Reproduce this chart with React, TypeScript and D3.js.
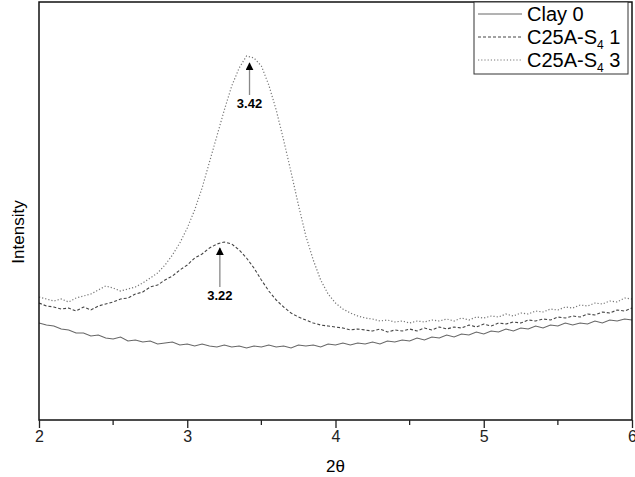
import React, { useEffect, useRef } from 'react';
import * as d3 from 'd3';

// 2theta positions (degrees)
const twoTheta = [
  2.0, 2.05, 2.1, 2.15, 2.2, 2.25, 2.3, 2.35, 2.4, 2.45,
  2.5, 2.55, 2.6, 2.65, 2.7, 2.75, 2.8, 2.85, 2.9, 2.95,
  3.0, 3.05, 3.1, 3.15, 3.2, 3.25, 3.3, 3.35, 3.4, 3.45,
  3.5, 3.55, 3.6, 3.65, 3.7, 3.75, 3.8, 3.85, 3.9, 3.95,
  4.0, 4.05, 4.1, 4.15, 4.2, 4.25, 4.3, 4.35, 4.4, 4.45,
  4.5, 4.55, 4.6, 4.65, 4.7, 4.75, 4.8, 4.85, 4.9, 4.95,
  5.0, 5.05, 5.1, 5.15, 5.2, 5.25, 5.3, 5.35, 5.4, 5.45,
  5.5, 5.55, 5.6, 5.65, 5.7, 5.75, 5.8, 5.85, 5.9, 5.95,
  6.0,
];

const clay0 = [
  97, 95, 94, 91, 90, 87, 87, 84, 85, 82,
  81, 83, 79, 80, 78, 79, 76, 77, 78, 75,
  76, 74, 76, 74, 73, 75, 73, 74, 72, 74,
  73, 75, 73, 74, 72, 75, 74, 75, 73, 76,
  75, 77, 75, 77, 76, 78, 76, 79, 78, 80,
  79, 82, 80, 83, 82, 85, 83, 86, 85, 88,
  86, 89, 88, 91, 89, 92, 91, 94, 92, 95,
  94, 97, 95, 97, 96, 99, 97, 100, 99, 101,
  100,
];

const c25a1 = [
  117, 114, 113, 111, 112, 109, 113, 110, 114, 116,
  118, 121, 122, 126, 128, 133, 135, 140, 144, 150,
  155, 162, 166, 172, 176, 178, 176, 170, 162, 152,
  140, 129, 120, 113, 107, 103, 100, 97, 95, 94,
  93, 92, 90, 91, 90, 89, 91, 88, 90, 89,
  91, 89, 92, 90, 93, 91, 93, 92, 95, 93,
  96, 94, 97, 96, 98, 97, 100, 99, 101, 100,
  103, 102, 104, 103, 106, 105, 108, 107, 110, 109,
  112,
];

const c25a3 = [
  123, 121, 119, 121, 118, 122, 124, 126, 130, 134,
  132, 129, 131, 133, 137, 142, 147, 155, 165, 177,
  192, 210, 232, 258, 284, 310, 334, 352, 364, 362,
  354, 335, 310, 280, 248, 215, 184, 160, 140, 126,
  117, 111, 107, 104, 102, 101, 99, 100, 98, 99,
  97, 99, 98, 100, 99, 101, 99, 102, 100, 103,
  102, 104, 103, 106, 104, 107, 106, 109, 108, 111,
  110, 113, 112, 115, 114, 117, 116, 119, 118, 122,
  121,
];

const seriesNames = ['Clay 0', 'C25A-S4 1', 'C25A-S4 3'];
const seriesValues = [clay0, c25a1, c25a3];

// peak annotations: position, arrow tip intensity, arrow tail intensity
const peakPositions = [3.42, 3.22];
const peakTips = [357, 172];
const peakTails = [325, 133];
const peakLabels = ['3.42', '3.22'];

const xTicks = [2, 3, 4, 5, 6];
const xMinorTicks = [2.5, 3.5, 4.5, 5.5];

const styles = [
  { stroke: '#666', dash: null, width: 1.1 },
  { stroke: '#444', dash: '3,2', width: 1.1 },
  { stroke: '#777', dash: '1.2,2', width: 1.2 },
];

export default function App() {
  const node = useRef<SVGSVGElement>(null);

  useEffect(() => {
    const svg = d3.select(node.current);
    svg.selectAll('*').remove();

    const left = 39, right = 632, top = 2, bottom = 420;
    const font = '"Liberation Sans", Arial, sans-serif';

    const x = d3.scaleLinear().domain([2, 6]).range([left, right]);
    // intensity in arbitrary units, kept at 1 unit per pixel
    const y = d3.scaleLinear().domain([0, bottom - top]).range([bottom, top]);

    const defs = svg.append('defs');
    defs.append('marker')
      .attr('id', 'arrowhead')
      .attr('viewBox', '0 0 10 10')
      .attr('refX', 9).attr('refY', 5)
      .attr('markerWidth', 8).attr('markerHeight', 8)
      .attr('markerUnits', 'userSpaceOnUse')
      .attr('orient', 'auto')
      .append('path')
      .attr('d', 'M0,0 L10,5 L0,10 Z')
      .attr('fill', '#000');

    const line = d3.line<number>()
      .x((_, i) => x(twoTheta[i]))
      .y(d => y(d));

    seriesValues.forEach((vals, i) => {
      svg.append('path')
        .datum(vals)
        .attr('d', line)
        .attr('fill', 'none')
        .attr('stroke', styles[i].stroke)
        .attr('stroke-width', styles[i].width)
        .attr('stroke-dasharray', styles[i].dash);
    });

    // arrows
    peakPositions.forEach((p, i) => {
      svg.append('line')
        .attr('x1', x(p)).attr('x2', x(p))
        .attr('y1', y(peakTails[i])).attr('y2', y(peakTips[i]))
        .attr('stroke', '#888')
        .attr('stroke-width', 1.3)
        .attr('marker-end', 'url(#arrowhead)');
      svg.append('text')
        .attr('x', x(p))
        .attr('y', y(peakTails[i]) + 13)
        .attr('text-anchor', 'middle')
        .attr('font-family', font)
        .attr('font-weight', 'bold')
        .attr('font-size', 13)
        .text(peakLabels[i]);
    });

    // frame
    svg.append('rect')
      .attr('x', left).attr('y', top)
      .attr('width', right - left).attr('height', bottom - top)
      .attr('fill', 'none')
      .attr('stroke', '#111')
      .attr('stroke-width', 1.5);

    const xAxis = d3.axisBottom(x).tickValues(xTicks).tickSize(8).tickFormat(d3.format('d'));
    const xAxisG = svg.append('g')
      .attr('transform', `translate(0,${bottom})`)
      .call(xAxis);
    xAxisG.select('.domain').remove();
    xAxisG.selectAll('text')
      .attr('font-family', font)
      .attr('font-size', 16)
      .attr('fill', '#222')
      .attr('dy', '0.7em');
    xAxisG.selectAll('line').attr('stroke', '#222').attr('stroke-width', 1.3);

    svg.append('g')
      .attr('transform', `translate(0,${bottom})`)
      .selectAll('line')
      .data(xMinorTicks)
      .enter()
      .append('line')
      .attr('x1', d => x(d)).attr('x2', d => x(d))
      .attr('y1', 0).attr('y2', 5)
      .attr('stroke', '#222')
      .attr('stroke-width', 1.3);

    svg.append('text')
      .attr('x', (left + right) / 2)
      .attr('y', 472)
      .attr('text-anchor', 'middle')
      .attr('font-family', font)
      .attr('font-size', 17)
      .text('2θ');

    svg.append('text')
      .attr('transform', `translate(24,${(top + bottom) / 2 + 21}) rotate(-90)`)
      .attr('text-anchor', 'middle')
      .attr('font-family', font)
      .attr('font-size', 17)
      .text('Intensity');

    // legend
    const lg = svg.append('g').attr('transform', `translate(474,${top})`);
    lg.append('rect')
      .attr('width', 154).attr('height', 72)
      .attr('fill', '#fff')
      .attr('stroke', '#333')
      .attr('stroke-width', 1);
    seriesNames.forEach((name, i) => {
      const row = lg.append('g').attr('transform', `translate(0,${12 + i * 23})`);
      row.append('line')
        .attr('x1', 4).attr('x2', 48)
        .attr('stroke', styles[i].stroke)
        .attr('stroke-width', 1)
        .attr('stroke-dasharray', styles[i].dash);
      const parts = name.split('-S4');
      const t = row.append('text')
        .attr('x', 53).attr('y', 7)
        .attr('font-family', font)
        .attr('font-size', 20);
      if (parts.length > 1) {
        t.append('tspan').text(parts[0] + '-S');
        t.append('tspan').attr('font-size', 12).attr('dy', 5).text('4');
        t.append('tspan').attr('dy', -5).text(parts[1]);
      } else {
        t.text(name);
      }
    });
  }, []);

  return (
    <svg ref={node} width={635} height={477} style={{ display: 'block', position: 'absolute', left: 0, top: 0, background: '#fff' }} />
  );
}
